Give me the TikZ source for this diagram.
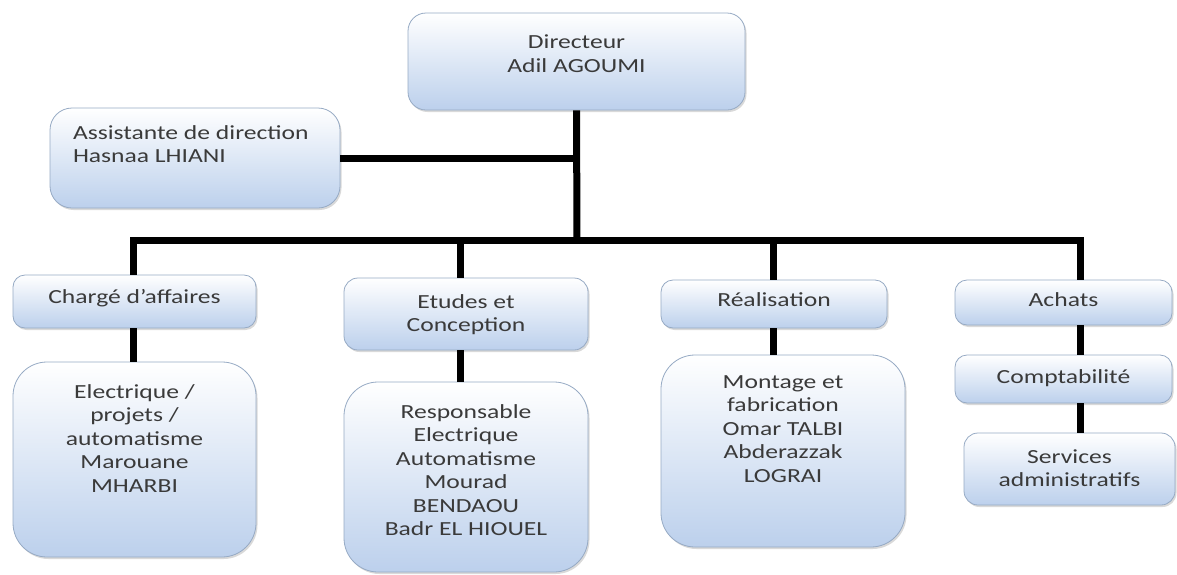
\documentclass[tikz,border=0pt]{standalone}
\usepackage{fontspec}
\setmainfont{Carlito}[FakeStretch=1.28]
\usetikzlibrary{shadows}

\definecolor{boxblue}{RGB}{188,208,236}
\definecolor{boxline}{RGB}{150,170,196}
\definecolor{txtgray}{RGB}{58,58,58}

% fixed-size text block, text hung from the top
\newcommand{\toptext}[5][\centering]{\parbox[c][#2][t]{#3}{#1\vspace*{#4}#5}}

\begin{document}
\begin{tikzpicture}[x=1pt,y=-1pt,
  orgbox/.style={draw=boxline, line width=0.8pt, top color=white, bottom color=boxblue,
    inner sep=0pt, text=txtgray, font=\fontsize{20}{23.5}\selectfont,
    drop shadow={shadow xshift=1.5pt, shadow yshift=-2pt, opacity=0.3}},
  link/.style={line width=7pt, black}]
\useasboundingbox (0,0) rectangle (1177,574);
%
\node[orgbox, rounded corners=18pt] (dir) at (576.5,61.5)
  {\toptext{97pt}{337pt}{22pt}{Directeur\\Adil AGOUMI}};
\node[orgbox, rounded corners=22pt] (asst) at (195,158)
  {\toptext[\raggedright\leftskip=23pt]{100pt}{290pt}{17.5pt}{Assistante de direction\\Hasnaa LHIANI}};
%
\node[orgbox, rounded corners=12pt] (charge) at (134.5,301.5)
  {\toptext{53pt}{243pt}{14pt}{Chargé d’affaires}};
\node[orgbox, rounded corners=34pt] (elec) at (134.5,459.5)
  {\toptext{195pt}{243pt}{22.5pt}{Electrique /\\projets /\\automatisme\\Marouane\\MHARBI}};
%
\node[orgbox, rounded corners=14pt] (etudes) at (466,314)
  {\toptext{72pt}{244pt}{16.5pt}{Etudes et\\Conception}};
\node[orgbox, rounded corners=34pt] (resp) at (466,477)
  {\toptext{190pt}{244pt}{22.5pt}{Responsable\\Electrique\\Automatisme\\Mourad\\BENDAOU\\Badr EL HIOUEL}};
%
\node[orgbox, rounded corners=12pt] (real) at (774,304)
  {\toptext{48pt}{226pt}{12.5pt}{Réalisation}};
\node[orgbox, rounded corners=34pt] (montage) at (783,451)
  {\toptext{192pt}{244pt}{20.5pt}{Montage et\\fabrication\\Omar TALBI\\Abderazzak\\LOGRAI}};
%
\node[orgbox, rounded corners=12pt] (achats) at (1063.5,302.5)
  {\toptext{45pt}{217pt}{12.5pt}{Achats}};
\node[orgbox, rounded corners=12pt] (compta) at (1063.5,379)
  {\toptext{48pt}{217pt}{14.5pt}{Comptabilité}};
\node[orgbox, rounded corners=14pt] (serv) at (1069.5,469)
  {\toptext{72pt}{211pt}{16.5pt}{Services\\administratifs}};
%
\coordinate (bar) at (577,240);
\draw[link] (dir.south) -- (bar);
\draw[link] (asst.east) -- (asst.east -| dir.south);
\draw[link] ([xshift=-1.5pt]charge.north) |- (bar) -| ([xshift=16.5pt]achats.north);
\draw[link] ([xshift=-6pt]etudes.north) -- ([xshift=-6pt]etudes.north |- bar);
\draw[link] ([xshift=-1pt]real.north) -- ([xshift=-1pt]real.north |- bar);
%
\draw[link] ([xshift=-1.5pt]charge.south) -- ([xshift=-1.5pt]elec.north);
\draw[link] ([xshift=-6pt]etudes.south) -- ([xshift=-6pt]resp.north);
\draw[link] ([xshift=-1pt]real.south) -- ([xshift=-1pt]real.south |- montage.north);
\draw[link] ([xshift=16.5pt]achats.south) -- ([xshift=16.5pt]compta.north);
\draw[link] ([xshift=16.5pt]compta.south) -- ([xshift=10.5pt]serv.north);
\end{tikzpicture}
\end{document}
